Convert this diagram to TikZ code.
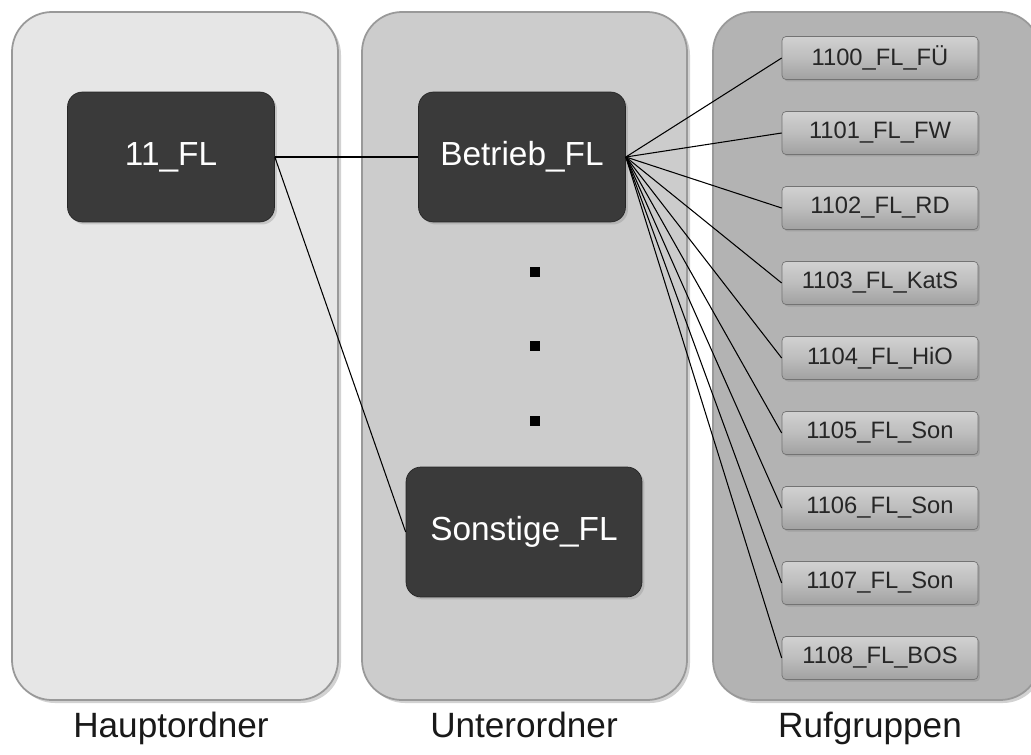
\documentclass[tikz,border=0pt]{standalone}
\usepackage{fontspec}
\setmainfont{Liberation Sans}
\usetikzlibrary{shadows}

\definecolor{panelA}{HTML}{E6E6E6}
\definecolor{panelB}{HTML}{CCCCCC}
\definecolor{panelC}{HTML}{B3B3B3}
\definecolor{folder}{HTML}{3A3A3A}
\definecolor{group}{HTML}{BDBDBD}

\begin{document}
\begin{tikzpicture}[
  x=0.02cm, y=-0.02cm,
  panel/.style={draw=gray!80, line width=1pt, rounded corners=0.8cm,
    drop shadow={shadow xshift=0.06cm, shadow yshift=-0.06cm, opacity=0.35}},
  fbox/.style={draw=black!85, fill=folder, rounded corners=0.3cm, text=white,
    minimum height=2.6cm, font=\fontsize{19}{23}\selectfont,
    drop shadow={shadow xshift=0.05cm, shadow yshift=-0.05cm, opacity=0.3}},
  gbox/.style={draw=gray!90!black, top color=group!70!white, bottom color=group!85!black,
    middle color=group, rounded corners=0.08cm, minimum width=3.92cm, minimum height=0.86cm,
    font=\fontsize{13.5}{16}\selectfont, text=black!85,
    drop shadow={shadow xshift=0.04cm, shadow yshift=-0.04cm, opacity=0.35}},
  caption/.style={font=\fontsize{20}{24}\selectfont, text=black!90, anchor=base},
  link/.style={line width=0.6pt},
  dotm/.style={fill=black},
]
\path [fill=white] (0,0) rectangle (1031,754);
\useasboundingbox (0,0) rectangle (1031,754);

% panels
\path [panel, fill=panelA] (12,12) rectangle (338,700);
\path [panel, fill=panelB] (362,12) rectangle (687,700);
\path [panel, fill=panelC] (713,12) rectangle (1040,700);

\node [caption] (haupt) at (171,737) {Hauptordner};
\node [caption] (unter) at (524,737) {Unterordner};
\node [caption] (ruf) at (870,737) {Rufgruppen};

% folders
\node [fbox, minimum width=4.14cm] (fl) at (171,157) {11\_FL};
\node [fbox, minimum width=4.14cm] (betrieb) at (522,157) {Betrieb\_FL};
\node [fbox, minimum width=4.72cm] (sonst) at (524,532) {Sonstige\_FL};

\path [dotm] (530,267) rectangle (540,277);
\path [dotm] (530,341) rectangle (540,351);
\path [dotm] (530,416) rectangle (540,426);

% call groups
\node [gbox] (g0) at (880,58) {1100\_FL\_FÜ};
\node [gbox] (g1) at (880,133) {1101\_FL\_FW};
\node [gbox] (g2) at (880,208) {1102\_FL\_RD};
\node [gbox] (g3) at (880,283) {1103\_FL\_KatS};
\node [gbox] (g4) at (880,358) {1104\_FL\_HiO};
\node [gbox] (g5) at (880,433) {1105\_FL\_Son};
\node [gbox] (g6) at (880,508) {1106\_FL\_Son};
\node [gbox] (g7) at (880,583) {1107\_FL\_Son};
\node [gbox] (g8) at (880,658) {1108\_FL\_BOS};

% links
\draw [link] (fl.east) -- (betrieb.west);
\draw [link] (fl.east) -- (sonst.west);
\foreach \i in {0,...,8}
  \draw [link] (betrieb.east) -- (g\i.west);
\end{tikzpicture}
\end{document}
